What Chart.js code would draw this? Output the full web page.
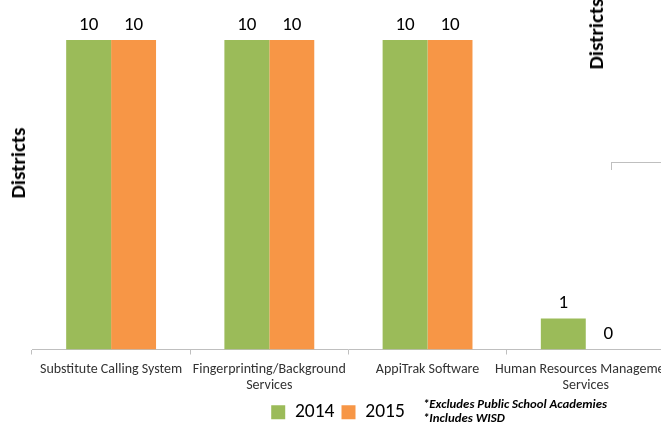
<!DOCTYPE html>
<html>
<head>
<meta charset="utf-8">
<script src="https://cdn.jsdelivr.net/npm/chart.js@4"></script>
<style>
  html, body { margin: 0; padding: 0; background: #fff; overflow: hidden; width: 661px; height: 426px; }
  #wrap { position: relative; width: 686px; height: 426px; overflow: hidden; }
  canvas { position: absolute; left: 0; top: 0; }
  .rot { position: absolute; transform: translate(-50%, -50%) rotate(-90deg); white-space: nowrap;
         font-family: Carlito, Lato, sans-serif; font-weight: bold; font-size: 21px; color: #000; }
  #note { position: absolute; left: 423px; top: 397px; font-family: Carlito, Lato, sans-serif;
          font-weight: bold; font-style: italic; font-size: 12.8px; line-height: 14px; color: #000; }
  #corner { position: absolute; left: 611px; top: 162px; width: 60px; height: 7px;
            border-top: 1px solid #bfbfbf; border-left: 1px solid #bfbfbf; }
</style>
</head>
<body>
<div id="wrap">
  <canvas id="c" width="686" height="432"></canvas>
  <div class="rot" style="left:18px; top:163px;">Districts</div>
  <div class="rot" style="left:596px; top:34px;">Districts</div>
  <div id="corner"></div>
  <div id="note">*Excludes Public School Academies<br>*Includes WISD</div>
</div>
<script>
const categories = [
  "Substitute Calling System",
  ["Fingerprinting/Background", "Services"],
  "AppiTrak Software",
  ["Human Resources Management", "Services"]
];
const seriesNames = ["2014", "2015"];
const values2014 = [10, 10, 10, 1];
const values2015 = [10, 10, 10, 0];

const valueLabels = {
  id: 'valueLabels',
  afterDatasetsDraw(chart) {
    const ctx = chart.ctx;
    ctx.save();
    ctx.font = '19px Carlito, Lato, sans-serif';
    ctx.fillStyle = '#000';
    ctx.textAlign = 'center';
    ctx.textBaseline = 'middle';
    chart.data.datasets.forEach((ds, i) => {
      const meta = chart.getDatasetMeta(i);
      meta.data.forEach((el, j) => {
        ctx.fillText(String(ds.data[j]), el.x, el.y - 15);
      });
    });
    ctx.restore();
  }
};

new Chart(document.getElementById('c'), {
  type: 'bar',
  data: {
    labels: categories,
    datasets: [
      { label: seriesNames[0], data: values2014, backgroundColor: '#9BBB59' },
      { label: seriesNames[1], data: values2015, backgroundColor: '#F79646' }
    ]
  },
  options: {
    responsive: false,
    animation: false,
    layout: { padding: { top: 40, left: 10, right: 20, bottom: 0 } },
    datasets: { bar: { barPercentage: 1, categoryPercentage: 0.568 } },
    scales: {
      x: {
        grid: { display: true, drawOnChartArea: false, drawTicks: true, tickLength: 5, color: '#bfbfbf', offset: true },
        border: { display: true, color: '#bfbfbf' },
        ticks: { color: '#333', font: { family: 'Carlito, Lato, sans-serif', size: 14, lineHeight: '16px' }, padding: 7, maxRotation: 0, autoSkip: false },
        afterFit(scale) { scale.height -= 5; }
      },
      y: {
        display: true, min: 0, max: 10,
        ticks: { display: false },
        grid: { display: false },
        border: { display: false },
        afterFit(scale) { scale.width = 22; }
      }
    },
    plugins: {
      legend: {
        position: 'bottom',
        labels: { boxWidth: 14, boxHeight: 14, padding: 7, color: '#000', font: { family: 'Carlito, Lato, sans-serif', size: 19.5 } }
      },
      tooltip: { enabled: false }
    }
  },
  plugins: [valueLabels]
});
</script>
</body>
</html>
